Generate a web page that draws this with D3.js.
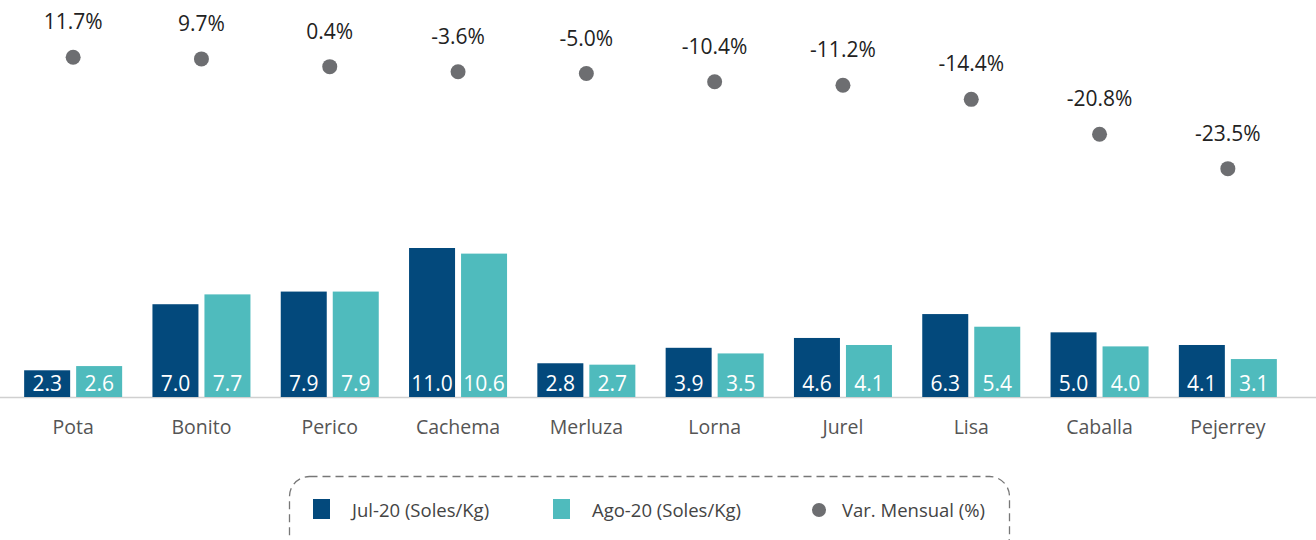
<!DOCTYPE html>
<html>
<head>
<meta charset="utf-8">
<script src="https://cdn.jsdelivr.net/npm/d3@7"></script>
<style>
    body { margin: 0; background: #fff; }
    svg { display: block; font-family: "Open Sans", sans-serif; }
</style>
</head>
<body>
<svg id="chart"></svg>
<script>
    const categories = ["Pota", "Bonito", "Perico", "Cachema", "Merluza", "Lorna", "Jurel", "Lisa", "Caballa", "Pejerrey"];
    const julValues = [2.3, 7.0, 7.9, 11.0, 2.8, 3.9, 4.6, 6.3, 5.0, 4.1];
    const agoValues = [2.6, 7.7, 7.9, 10.6, 2.7, 3.5, 4.1, 5.4, 4.0, 3.1];
    const varValues = [11.7, 9.7, 0.4, -3.6, -5.0, -10.4, -11.2, -14.4, -20.8, -23.5];
    const seriesNames = ["Jul-20 (Soles/Kg)", "Ago-20 (Soles/Kg)", "Var. Mensual (%)"];

    const width = 1316, height = 540;
    const baseY = 397;
    const colors = ["#03497c", "#4fbbbd", "#6d6e71"];

    const svg = d3.select("#chart")
        .attr("width", width)
        .attr("height", height);

    const x = d3.scaleBand()
        .domain(categories)
        .range([9, 1292]);

    const barW = 46, gap = 6;

    // bar heights
    const y = d3.scaleLinear()
        .domain([0.4, 11])
        .range([baseY, baseY - 149]);

    // dot positions (uneven spacing in the original)
    const yVar = d3.scaleLinear()
        .domain([-24, -20, -10, 0, 12])
        .range([175, 124, 80, 67, 57]);

    // base line
    svg.append("line")
        .attr("x1", 0).attr("x2", width)
        .attr("y1", baseY + 0.5).attr("y2", baseY + 0.5)
        .attr("stroke", "#d0d0d0")
        .attr("stroke-width", 1.5);

    const series = [julValues, agoValues];
    series.forEach(function (vals, s) {
        const g = svg.append("g");
        const xOff = s === 0 ? -barW - gap / 2 : gap / 2;

        g.selectAll("rect")
            .data(vals)
            .enter()
            .append("rect")
            .attr("x", (d, i) => x(categories[i]) + x.bandwidth() / 2 + xOff)
            .attr("y", d => y(d))
            .attr("width", barW)
            .attr("height", d => baseY - y(d))
            .attr("fill", colors[s]);

        g.selectAll("text")
            .data(vals)
            .enter()
            .append("text")
            .attr("x", (d, i) => x(categories[i]) + x.bandwidth() / 2 + xOff + barW / 2)
            .attr("y", baseY - 6)
            .attr("text-anchor", "middle")
            .attr("fill", "#fff")
            .style("font-size", "21px")
            .text(d => d.toFixed(1));
    });

    // category labels
    svg.append("g")
        .selectAll("text")
        .data(categories)
        .enter()
        .append("text")
        .attr("x", d => x(d) + x.bandwidth() / 2)
        .attr("y", 434)
        .attr("text-anchor", "middle")
        .attr("fill", "#555")
        .style("font-size", "19.5px")
        .text(d => d);

    // monthly variation dots
    const dots = svg.append("g");
    dots.selectAll("circle")
        .data(varValues)
        .enter()
        .append("circle")
        .attr("cx", (d, i) => x(categories[i]) + x.bandwidth() / 2)
        .attr("cy", d => yVar(d))
        .attr("r", 7.5)
        .attr("fill", colors[2]);

    dots.selectAll("text")
        .data(varValues)
        .enter()
        .append("text")
        .attr("x", (d, i) => x(categories[i]) + x.bandwidth() / 2)
        .attr("y", d => yVar(d) - 28)
        .attr("text-anchor", "middle")
        .attr("fill", "#222")
        .style("font-size", "21px")
        .text(d => d.toFixed(1) + "%");

    // legend
    const legend = svg.append("g");
    legend.append("rect")
        .attr("x", 289.5).attr("y", 476.5)
        .attr("width", 720).attr("height", 80)
        .attr("rx", 20)
        .attr("fill", "none")
        .attr("stroke", "#777")
        .attr("stroke-width", 1.3)
        .attr("stroke-dasharray", "8,5");

    const legendX = [313, 553, 812];
    seriesNames.forEach(function (name, i) {
        if (i < 2) {
            legend.append("rect")
                .attr("x", legendX[i]).attr("y", 499)
                .attr("width", 17).attr("height", 20)
                .attr("fill", colors[i]);
        } else {
            legend.append("circle")
                .attr("cx", legendX[i] + 7).attr("cy", 510)
                .attr("r", 7)
                .attr("fill", colors[i]);
        }
        legend.append("text")
            .attr("x", legendX[i] + (i < 2 ? 39 : 30))
            .attr("y", 517)
            .attr("fill", "#444")
            .style("font-size", "18.5px")
            .text(name);
    });
</script>
</body>
</html>
